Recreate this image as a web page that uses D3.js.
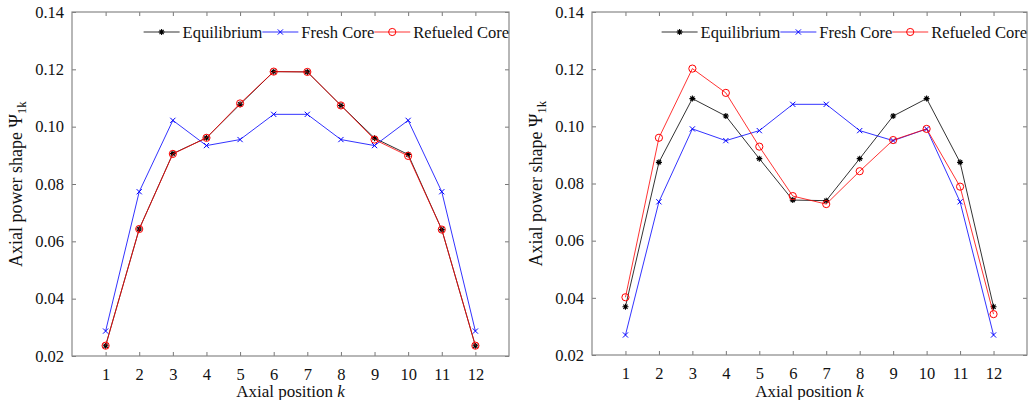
<!DOCTYPE html>
<html>
<head>
<meta charset="utf-8">
<script src="https://cdn.jsdelivr.net/npm/d3@7"></script>
<style>
  html, body { margin: 0; padding: 0; background: #fff; }
  svg text { font-family: "Liberation Serif", "DejaVu Serif", serif; fill: #111; }
</style>
</head>
<body>
<div id="chart"></div>
<script>
const WIDTH = 1032, HEIGHT = 400;

// axial positions and tick labels
const positions = [1, 2, 3, 4, 5, 6, 7, 8, 9, 10, 11, 12];
const yTicks = [0.02, 0.04, 0.06, 0.08, 0.10, 0.12, 0.14];

// left panel
const leftEquilibrium = [0.0236, 0.0643, 0.0906, 0.0961, 0.1078, 0.1192, 0.1191, 0.1074, 0.0960, 0.0903, 0.0641, 0.0236];
const leftFresh       = [0.0287, 0.0773, 0.1022, 0.0934, 0.0955, 0.1043, 0.1043, 0.0955, 0.0934, 0.1022, 0.0773, 0.0287];
const leftRefueled    = [0.0236, 0.0643, 0.0905, 0.0961, 0.1081, 0.1192, 0.1191, 0.1074, 0.0955, 0.0898, 0.0641, 0.0236];

// right panel
const rightEquilibrium = [0.0369, 0.0874, 0.1097, 0.1036, 0.0887, 0.0742, 0.0740, 0.0887, 0.1036, 0.1097, 0.0874, 0.0369];
const rightFresh       = [0.0270, 0.0736, 0.0991, 0.0950, 0.0985, 0.1077, 0.1077, 0.0985, 0.0950, 0.0991, 0.0736, 0.0270];
const rightRefueled    = [0.0402, 0.0960, 0.1202, 0.1117, 0.0929, 0.0756, 0.0728, 0.0843, 0.0952, 0.0991, 0.0789, 0.0343];

const seriesNames = ["Equilibrium", "Fresh Core", "Refueled Core"];
const colors = ["#000000", "#0000ff", "#ff0000"];
const symbols = ["star", "cross", "circle"];

const svg = d3.select("#chart").append("svg")
  .attr("width", WIDTH).attr("height", HEIGHT);

const panels = [
  { box: { left: 72, right: 509, top: 12, bottom: 356 }, data: [leftEquilibrium, leftFresh, leftRefueled] },
  { box: { left: 592, right: 1027, top: 12, bottom: 355 }, data: [rightEquilibrium, rightFresh, rightRefueled] }
];

function drawMarker(sel, type, color) {
  if (type === "star") {
    const r = 3;
    sel.append("path")
      .attr("d", `M${-r},0H${r}M0,${-r}V${r}M${-r*0.7},${-r*0.7}L${r*0.7},${r*0.7}M${-r*0.7},${r*0.7}L${r*0.7},${-r*0.7}`)
      .attr("stroke", color).attr("stroke-width", 1.1).attr("fill", "none");
  } else if (type === "cross") {
    const r = 2.6;
    sel.append("path")
      .attr("d", `M${-r},${-r}L${r},${r}M${-r},${r}L${r},${-r}`)
      .attr("stroke", color).attr("stroke-width", 1).attr("fill", "none");
  } else {
    sel.append("circle").attr("r", 3.6)
      .attr("stroke", color).attr("stroke-width", 1).attr("fill", "none");
  }
}

panels.forEach(p => {
  const b = p.box;
  const x = d3.scaleLinear().domain([0, 13]).range([b.left, b.right]);
  const y = d3.scaleLinear().domain([0.02, 0.14]).range([b.bottom, b.top]);
  const g = svg.append("g");

  // axes with inward ticks on all four sides
  const axB = g.append("g").attr("transform", `translate(0,${b.bottom})`)
    .call(d3.axisBottom(x).tickValues(positions).tickSize(-4).tickPadding(12).tickFormat(d3.format("d")));
  const axT = g.append("g").attr("transform", `translate(0,${b.top})`)
    .call(d3.axisTop(x).tickValues(positions).tickSize(-4).tickFormat(""));
  const axL = g.append("g").attr("transform", `translate(${b.left},0)`)
    .call(d3.axisLeft(y).tickValues(yTicks).tickSize(-4).tickPadding(8).tickFormat(d3.format(".2f")));
  const axR = g.append("g").attr("transform", `translate(${b.right},0)`)
    .call(d3.axisRight(y).tickValues(yTicks).tickSize(-4).tickFormat(""));
  [axB, axT, axL, axR].forEach(a => {
    a.select(".domain").remove();
    a.selectAll(".tick line").attr("stroke", "#777");
    a.selectAll("text").attr("font-size", 16.5).attr("fill", "#111");
  });
  axB.selectAll("text").attr("dy", "0.71em");

  g.append("rect")
    .attr("x", b.left).attr("y", b.top)
    .attr("width", b.right - b.left).attr("height", b.bottom - b.top)
    .attr("fill", "none").attr("stroke", "#888").attr("stroke-width", 1.2);

  // series
  p.data.forEach((vals, i) => {
    const pts = positions.map((k, j) => [k, vals[j]]);
    g.append("path").datum(pts)
      .attr("fill", "none").attr("stroke", colors[i]).attr("stroke-width", 1)
      .attr("stroke-opacity", 0.8)
      .attr("d", d3.line().x(d => x(d[0])).y(d => y(d[1])));
    pts.forEach(d => {
      const m = g.append("g").attr("transform", `translate(${x(d[0])},${y(d[1])})`);
      drawMarker(m, symbols[i], colors[i]);
    });
  });

  // axis titles
  g.append("text")
    .attr("x", (b.left + b.right) / 2).attr("y", 397)
    .attr("text-anchor", "middle").attr("font-size", 17)
    .html('Axial position <tspan font-style="italic">k</tspan>');
  g.append("text")
    .attr("transform", `translate(${b.left - 50},${(b.top + b.bottom) / 2}) rotate(-90)`)
    .attr("text-anchor", "middle").attr("font-size", 18)
    .html('Axial power shape Ψ<tspan font-size="13" dy="4">1k</tspan>');

  // legend, right-aligned to the box
  const lg = g.append("g").attr("transform", `translate(0,${b.top + 20})`);
  const sampleW = 36;
  let cursor = b.right;
  for (let i = seriesNames.length - 1; i >= 0; i--) {
    const t = lg.append("text").attr("font-size", 16.5).attr("dy", "0.35em").text(seriesNames[i]);
    const w = t.node().getComputedTextLength();
    cursor -= w;
    t.attr("x", cursor);
    cursor -= 3;
    lg.append("line").attr("x1", cursor - sampleW).attr("x2", cursor)
      .attr("stroke", colors[i]).attr("stroke-width", 1).attr("stroke-opacity", 0.8);
    const m = lg.append("g").attr("transform", `translate(${cursor - sampleW / 2},0)`);
    drawMarker(m, symbols[i], colors[i]);
    cursor -= sampleW;
  }
});
</script>
</body>
</html>
